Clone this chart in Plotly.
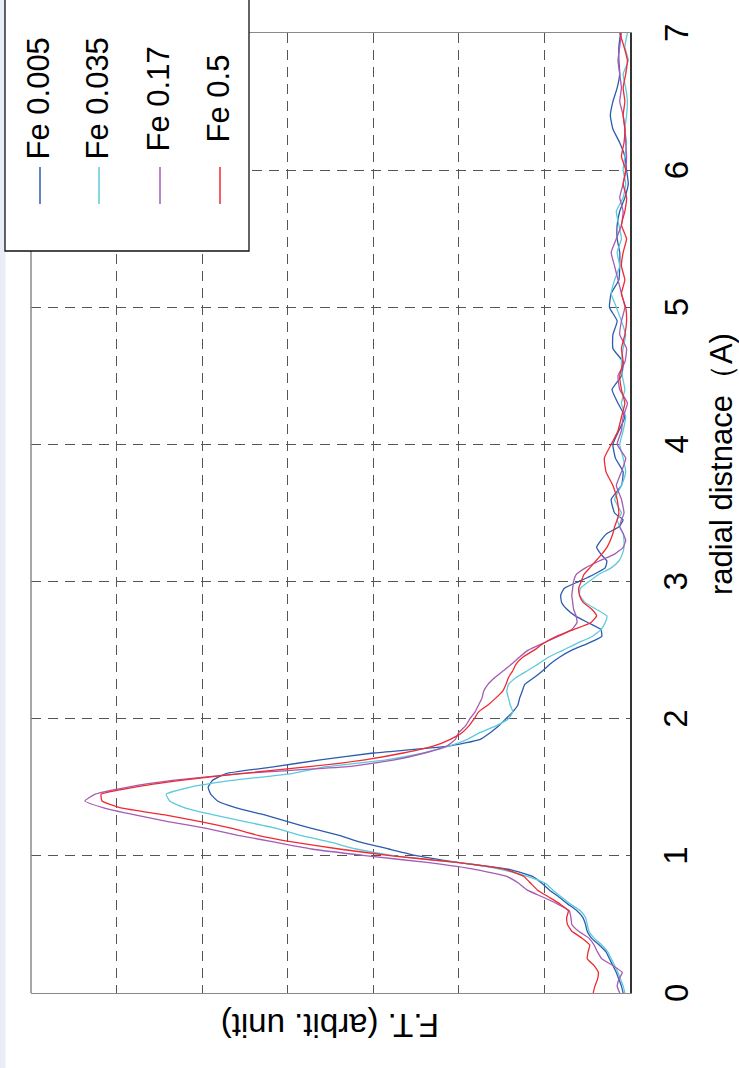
import plotly.graph_objects as go

# radial distance samples (A)
r = [0.00, 0.05, 0.10, 0.15, 0.20, 0.25, 0.30, 0.35, 0.40, 0.45,
     0.50, 0.55, 0.60, 0.65, 0.70, 0.75, 0.80, 0.85, 0.90, 0.95,
     1.00, 1.05, 1.10, 1.15, 1.20, 1.25, 1.30, 1.35, 1.40, 1.45,
     1.50, 1.55, 1.60, 1.65, 1.70, 1.75, 1.80, 1.85, 1.90, 1.95,
     2.00, 2.05, 2.10, 2.15, 2.20, 2.25, 2.30, 2.35, 2.40, 2.45,
     2.50, 2.55, 2.60, 2.65, 2.70, 2.75, 2.80, 2.85, 2.90, 2.95,
     3.00, 3.05, 3.10, 3.15, 3.20, 3.25, 3.30, 3.35, 3.40, 3.45,
     3.50,
     3.6, 3.7, 3.8, 3.9, 4.0, 4.1, 4.2, 4.3, 4.4, 4.5,
     4.6, 4.7, 4.8, 4.9, 5.0, 5.1, 5.2, 5.3, 5.4, 5.5,
     5.6, 5.7, 5.8, 5.9, 6.0, 6.1, 6.2, 6.3, 6.4, 6.5,
     6.6, 6.7, 6.8, 6.9, 7.0]

# Fourier transform magnitude (arbitrary units)
ft_fe_0005 = [0.08, 0.10, 0.13, 0.16, 0.20, 0.24, 0.28, 0.36, 0.45, 0.50,
              0.52, 0.55, 0.62, 0.73, 0.83, 0.94, 1.03, 1.14, 1.40, 1.99,
              2.48, 2.82, 3.15, 3.40, 3.72, 4.00, 4.28, 4.60, 4.82, 4.90,
              4.93, 4.88, 4.72, 4.15, 3.62, 3.00, 2.12, 1.75, 1.63, 1.53,
              1.45, 1.37, 1.31, 1.29, 1.26, 1.23, 1.12, 1.02, 0.93, 0.82,
              0.68, 0.49, 0.33, 0.34, 0.49, 0.64, 0.74, 0.80, 0.81, 0.77,
              0.60, 0.43, 0.29, 0.27, 0.34, 0.39, 0.34, 0.27, 0.13, 0.08,
              0.18,
              0.22, 0.10, 0.08, 0.17, 0.20, 0.13, 0.06, 0.14, 0.21, 0.10,
              0.08, 0.20, 0.20, 0.15, 0.24, 0.22, 0.13, 0.12, 0.12, 0.15,
              0.15, 0.12, 0.06, 0.02, 0.04, 0.06, 0.12, 0.20, 0.23, 0.20,
              0.15, 0.12, 0.13, 0.13, 0.11]

ft_fe_0035 = [0.06, 0.08, 0.11, 0.14, 0.18, 0.22, 0.26, 0.33, 0.42, 0.48,
              0.50, 0.52, 0.58, 0.70, 0.80, 0.90, 0.99, 1.20, 1.50, 2.00,
              2.75, 3.20, 3.50, 3.85, 4.13, 4.50, 4.88, 5.20, 5.38, 5.42,
              5.15, 4.65, 3.95, 3.55, 2.85, 2.41, 2.12, 1.90, 1.75, 1.56,
              1.42, 1.37, 1.40, 1.42, 1.44, 1.42, 1.33, 1.20, 1.07, 0.95,
              0.78, 0.62, 0.44, 0.34, 0.29, 0.27, 0.40, 0.53, 0.59, 0.58,
              0.48, 0.37, 0.22, 0.13, 0.09, 0.07, 0.07, 0.08, 0.12, 0.15,
              0.10,
              0.18, 0.10, 0.05, 0.08, 0.12, 0.08, 0.05, 0.10, 0.06, 0.09,
              0.10, 0.08, 0.05, 0.10, 0.16, 0.22, 0.18, 0.12, 0.15, 0.10,
              0.13, 0.16, 0.08, 0.05, 0.08, 0.06, 0.04, 0.06, 0.04, 0.03,
              0.05, 0.08, 0.02, 0.06, 0.03]

ft_fe_017 = [0.12, 0.15, 0.13, 0.09, 0.20, 0.33, 0.38, 0.42, 0.48, 0.60,
             0.68, 0.69, 0.71, 0.85, 1.02, 1.20, 1.30, 1.44, 1.80, 2.35,
             3.07, 3.72, 4.15, 4.58, 4.95, 5.40, 5.80, 6.15, 6.37, 6.25,
             5.88, 5.35, 4.55, 3.30, 2.75, 2.40, 2.14, 2.04, 2.00, 1.92,
             1.87, 1.81, 1.77, 1.73, 1.71, 1.66, 1.58, 1.48, 1.38, 1.29,
             1.19, 1.02, 0.84, 0.68, 0.62, 0.63, 0.66, 0.67, 0.68, 0.67,
             0.66, 0.63, 0.52, 0.36, 0.18, 0.08, 0.05, 0.08, 0.12, 0.10,
             0.07,
             0.10, 0.16, 0.10, 0.05, 0.15, 0.10, 0.08, 0.03, 0.12, 0.14,
             0.06, 0.04, 0.12, 0.10, 0.06, 0.10, 0.14, 0.18, 0.22, 0.16,
             0.10, 0.08, 0.12, 0.08, 0.05, 0.04, 0.05, 0.06, 0.08, 0.12,
             0.10, 0.12, 0.14, 0.12, 0.10]

ft_fe_05 = [0.43, 0.41, 0.38, 0.37, 0.42, 0.50, 0.49, 0.47, 0.56, 0.68,
            0.73, 0.74, 0.72, 0.82, 0.95, 1.08, 1.16, 1.24, 1.45, 2.00,
            2.78, 3.40, 3.93, 4.35, 4.65, 5.02, 5.45, 5.95, 6.17, 6.18,
            5.80, 5.25, 4.55, 3.75, 3.10, 2.65, 2.30, 2.10, 1.96, 1.88,
            1.82, 1.77, 1.66, 1.57, 1.49, 1.45, 1.42, 1.37, 1.33, 1.25,
            1.12, 1.01, 0.86, 0.66, 0.46, 0.39, 0.45, 0.55, 0.59, 0.60,
            0.57, 0.54, 0.47, 0.40, 0.33, 0.27, 0.23, 0.20, 0.18, 0.15,
            0.13,
            0.15, 0.20, 0.28, 0.30, 0.22, 0.14, 0.10, 0.06, 0.10, 0.12,
            0.08, 0.10, 0.06, 0.04, 0.05, 0.10, 0.06, 0.10, 0.08, 0.04,
            0.10, 0.06, 0.04, 0.08, 0.05, 0.10, 0.07, 0.06, 0.08, 0.06,
            0.08, 0.05, 0.03, 0.07, 0.12]

series_names = ["Fe 0.005", "Fe 0.035", "Fe 0.17", "Fe 0.5"]
series_values = [ft_fe_0005, ft_fe_0035, ft_fe_017, ft_fe_05]
series_colors = ["#2b5cae", "#5ccadb", "#a45cb4", "#ef2a30"]

r_ticks = [0, 1, 2, 3, 4, 5, 6, 7]
r_title = "radial distnace（A)"
ft_title = "F.T. (arbit. unit)"

W, H = 739, 1068
ML, MR, MT, MB = 31, 109, 33, 75
PW, PH = W - ML - MR, H - MT - MB

def px(xp):
    return (xp - ML) / PW

def py(yp):
    return (H - MB - yp) / PH

FONT = "Liberation Sans, Arial, sans-serif"

fig = go.Figure()
for name, vals, color in zip(series_names, series_values, series_colors):
    fig.add_trace(go.Scatter(
        x=vals, y=r, mode="lines", name=name, showlegend=False,
        line=dict(color=color, width=1.3, shape="spline", smoothing=0.4),
    ))

grid = dict(showgrid=True, gridcolor="#555555", gridwidth=1, griddash="10px,7px",
            zeroline=False, showticklabels=False, ticks="", dtick=1, tick0=0)

fig.update_xaxes(range=[7, 0], showline=True, mirror=True, linecolor="#8a8a8a",
                 linewidth=1, **grid)
fig.update_yaxes(range=[0, 7], side="right", showline=True, linecolor="#333333",
                 linewidth=1.5, **grid)

shapes = []
# thin tinted strip on the far left
shapes.append(dict(type="rect", xref="paper", yref="paper",
                   x0=px(0), x1=px(5.5), y0=py(H), y1=py(0),
                   fillcolor="#e8edf8", line=dict(width=0), layer="above"))
# left frame edge
shapes.append(dict(type="line", xref="paper", yref="paper",
                   x0=px(ML), x1=px(ML), y0=0, y1=1,
                   line=dict(color="#8a8a8a", width=1.5), layer="above"))
# legend box
shapes.append(dict(type="rect", xref="paper", yref="paper",
                   x0=px(5), x1=px(249), y0=py(251), y1=py(-3),
                   fillcolor="white", line=dict(color="#111111", width=1.3),
                   layer="above"))

annotations = []
legend_x = [40, 99, 160, 220]
for name, color, lx in zip(series_names, series_colors, legend_x):
    shapes.append(dict(type="line", xref="paper", yref="paper",
                       x0=px(lx), x1=px(lx), y0=py(204), y1=py(167),
                       line=dict(color=color, width=1.5), layer="above"))
    annotations.append(dict(text=name, xref="paper", yref="paper",
                            x=px(lx - 1.5), y=py(99), textangle=-90,
                            showarrow=False, xanchor="center", yanchor="middle",
                            font=dict(family=FONT, size=31, color="black")))

for t in r_ticks:
    annotations.append(dict(text=str(t), xref="paper", yref="y",
                            x=px(676), y=t, textangle=-90, showarrow=False,
                            xanchor="center", yanchor="middle",
                            font=dict(family=FONT, size=33, color="black")))

annotations.append(dict(text=r_title, xref="paper", yref="paper",
                        x=px(721), y=py(464), textangle=-90, showarrow=False,
                        xanchor="center", yanchor="middle",
                        font=dict(family=FONT, size=31, color="black")))
annotations.append(dict(text=ft_title, xref="paper", yref="paper",
                        x=px(330), y=py(1026), textangle=180, showarrow=False,
                        xanchor="center", yanchor="middle",
                        font=dict(family=FONT, size=33, color="black")))

fig.update_layout(
    width=W, height=H,
    margin=dict(l=ML, r=MR, t=MT, b=MB),
    paper_bgcolor="white", plot_bgcolor="white",
    shapes=shapes, annotations=annotations, showlegend=False,
)

fig.write_html("out.html")
